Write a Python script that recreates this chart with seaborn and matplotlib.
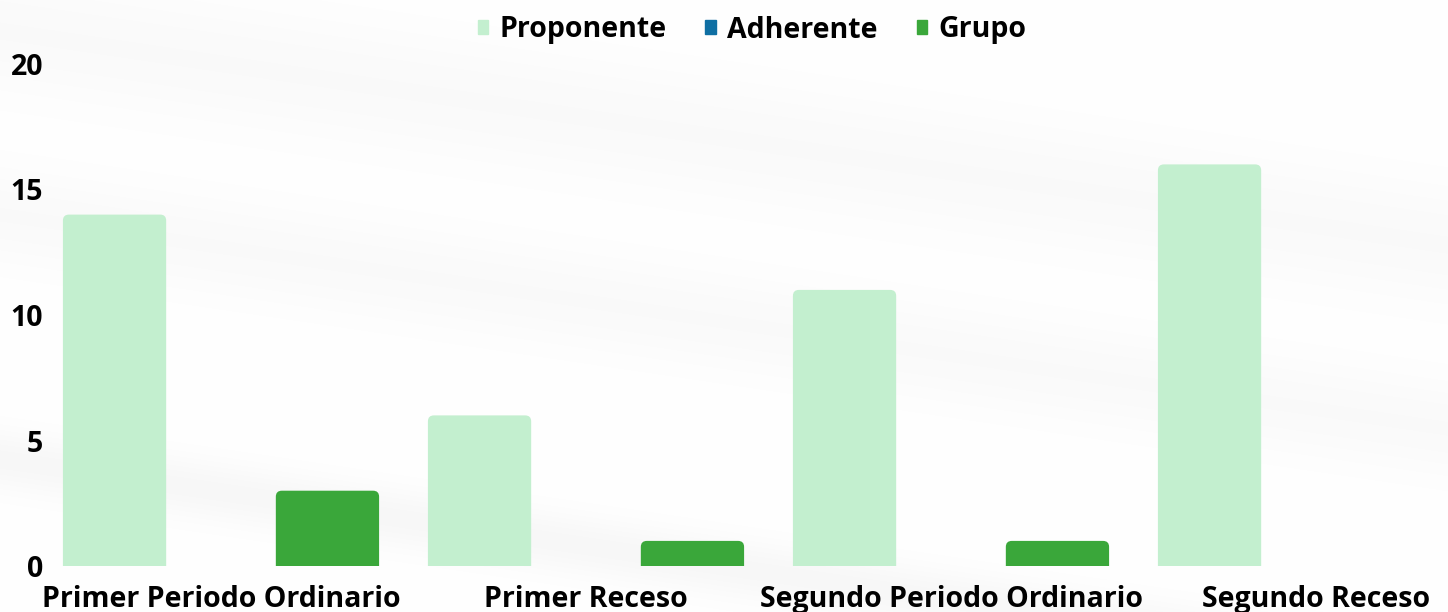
import numpy as np
import pandas as pd
import matplotlib.pyplot as plt
import seaborn as sns
from matplotlib.patches import FancyBboxPatch

periodos = ["Primer Periodo Ordinario", "Primer Receso", "Segundo Periodo Ordinario", "Segundo Receso"]
tipos = ["Proponente", "Adherente", "Grupo"]
proponente = [14, 6, 11, 16]
adherente = [0, 0, 0, 0]
grupo = [3, 1, 1, 0]
colores = ["#c3efcf", "#0f6fa3", "#3aa73a"]


def main():
    df = pd.DataFrame({
        "Periodo": periodos * 3,
        "Tipo": [t for t in tipos for _ in periodos],
        "Cantidad": proponente + adherente + grupo,
    })

    sns.set_theme(style="white")
    plt.rcParams["font.family"] = ["Open Sans", "DejaVu Sans"]
    plt.rcParams["text.color"] = "black"

    W, H = 1448, 612
    fig = plt.figure(figsize=(W / 100, H / 100), dpi=100)

    # faint swoosh background
    yy, xx = np.mgrid[0:H, 0:W]
    u = yy / H - 0.35 * xx / W
    bg = (1 - 0.03 * np.exp(-((u - 0.75) / 0.05) ** 2)
          - 0.02 * np.exp(-((u - 0.35) / 0.08) ** 2)
          - 0.02 * np.exp(-((u - 0.05) / 0.10) ** 2))
    fig.figimage(np.dstack([bg, bg, bg]), xo=0, yo=0, origin="upper", zorder=-10)

    ax = fig.add_axes([50 / W, (H - 566) / H, (W - 50) / W, (566 - 64) / H])
    ax.set_facecolor("none")
    sns.barplot(data=df, x="Periodo", y="Cantidad", hue="Tipo", palette=colores,
                width=0.875, gap=0.03, saturation=1, ax=ax, legend=False)

    ax.set_xlim((50 - 221) / 365, (W - 221) / 365)
    ax.set_ylim(0, 20)

    # rounded top corners
    rx = 6 / 365
    ry = 6 * 20 / 502
    for p in list(ax.patches):
        h = p.get_height()
        if h <= 0:
            p.remove()
            continue
        x0, w = p.get_x(), p.get_width()
        fb = FancyBboxPatch((x0, -1), w, h + 1,
                            boxstyle=f"round,pad=0,rounding_size={rx}",
                            mutation_aspect=ry / rx,
                            facecolor=p.get_facecolor(), edgecolor="none")
        p.remove()
        ax.add_patch(fb)

    ax.set_yticks([0, 5, 10, 15, 20])
    ax.set_xlabel("")
    ax.set_ylabel("")
    for s in ax.spines.values():
        s.set_visible(False)
    ax.tick_params(axis="both", length=0, labelsize=20.5, labelcolor="black")
    ax.tick_params(axis="y", pad=5)
    ax.tick_params(axis="x", pad=14)
    for lbl in ax.get_xticklabels() + ax.get_yticklabels():
        lbl.set_fontweight("bold")

    handles = [plt.Rectangle((0, 0), 1, 1, color=c) for c in colores]
    fig.legend(handles, tipos, loc="center", bbox_to_anchor=(752 / W, 1 - 30 / H),
               ncol=3, frameon=False, handlelength=0.36, handleheight=0.36,
               handletextpad=0.4, columnspacing=1.37,
               prop={"weight": "bold", "size": 20.5})

    fig.savefig("out.png", dpi=100)
    plt.close(fig)


if __name__ == "__main__":
    main()
